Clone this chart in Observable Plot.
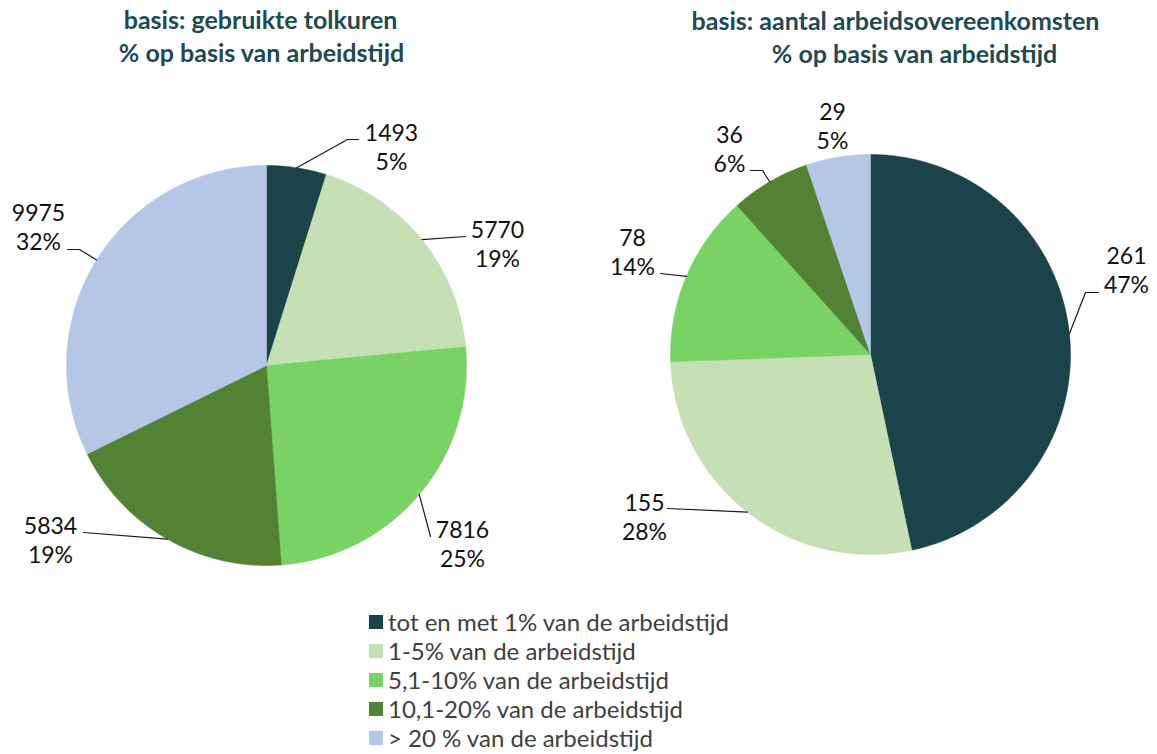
<!DOCTYPE html>
<html><head><meta charset="utf-8">
<script src="https://cdn.jsdelivr.net/npm/d3@7"></script>
<script src="https://cdn.jsdelivr.net/npm/@observablehq/plot@0.6"></script>
<style>
body{margin:0;background:#fff;font-family:Lato,sans-serif;}
#wrap{position:relative;width:1157px;height:754px;overflow:hidden;}
#chart{position:absolute;left:0;top:0;}
#legend{position:absolute;left:369px;top:607px;}
.row{display:flex;align-items:center;height:29px;font-size:24px;color:#404040;white-space:nowrap;}
.sw{width:14px;height:14px;margin-right:5px;flex:none;}
</style></head><body><div id="wrap"><div id="chart"></div><div id="legend"></div></div>
<script>
// ---- data ----
const categories = ["tot en met 1% van de arbeidstijd","1-5% van de arbeidstijd","5,1-10% van de arbeidstijd","10,1-20% van de arbeidstijd","> 20 % van de arbeidstijd"];
const hoursValues = [1493, 5770, 7816, 5834, 9975];
const hoursPct = ["5%", "19%", "25%", "19%", "32%"];
const contractValues = [261, 155, 78, 36, 29];
const contractPct = ["47%", "28%", "14%", "6%", "5%"];
const titleLeft = ["basis: gebruikte tolkuren", "% op basis van arbeidstijd"];
const titleRight = ["basis: aantal arbeidsovereenkomsten", "% op basis van arbeidstijd"];
const colors = ["#1b434a", "#c5e0b4", "#78d264", "#548235", "#b4c7e7"];

// ---- layout ----
const W = 1157, H = 590;
const pies = [
  {values: hoursValues, pct: hoursPct, cx: 266, cy: 365, r: 200,
   titles: titleLeft, titlePos: [[260, 20], [261, 53]],
   labels: [
     {x: 391, y: 146, leader: [[347, 139], [358, 139]]},
     {x: 497, y: 243, leader: [[465, 236]]},
     {x: 462, y: 543, leader: [[430, 536]]},
     {x: 50, y: 539, leader: [[83, 532]]},
     {x: 38, y: 226, leader: [[79, 249], [67, 249]]}
   ]},
  {values: contractValues, pct: contractPct, cx: 870, cy: 354, r: 200,
   titles: titleRight, titlePos: [[895, 21], [914, 54]],
   labels: [
     {x: 1126, y: 269, leader: [[1085, 292], [1098, 292]]},
     {x: 644, y: 516, leader: [[667, 508]]},
     {x: 632, y: 251, leader: [[660, 273]]},
     {x: 729, y: 148, leader: [[762, 170], [750, 170]]},
     {x: 832, y: 125, leader: null}
   ]}
];

const slicePts = [], leaderPts = [], labelRows = [], titleRows = [];
pies.forEach((p, pi) => {
  const arcs = d3.pie().sort(null).startAngle(0).endAngle(2 * Math.PI)(p.values);
  arcs.forEach((a, i) => {
    const key = pi + "-" + i, cat = categories[i];
    const pt = ang => ({x: p.cx + p.r * Math.sin(ang), y: p.cy - p.r * Math.cos(ang)});
    slicePts.push({key, cat, x: p.cx, y: p.cy});
    const n = Math.max(2, Math.ceil((a.endAngle - a.startAngle) / (Math.PI / 360)));
    for (let k = 0; k <= n; k++) {
      const q = pt(a.startAngle + (a.endAngle - a.startAngle) * k / n);
      slicePts.push({key, cat, x: q.x, y: q.y});
    }
    slicePts.push({key, cat, x: p.cx, y: p.cy});
    const lab = p.labels[i];
    labelRows.push({x: lab.x, y: lab.y, text: p.values[i] + "\n" + p.pct[i]});
    if (lab.leader) {
      const m = pt((a.startAngle + a.endAngle) / 2);
      leaderPts.push({key, x: m.x, y: m.y});
      lab.leader.forEach(([x, y]) => leaderPts.push({key, x, y}));
    }
  });
  p.titles.forEach((t, j) => titleRows.push({x: p.titlePos[j][0], y: p.titlePos[j][1], text: t}));
});

const chart = Plot.plot({
  width: W, height: H, margin: 0,
  x: {domain: [0, W], range: [0, W], axis: null},
  y: {domain: [0, H], range: [0, H], axis: null},
  color: {domain: categories, range: colors},
  style: {fontFamily: "Lato, sans-serif", background: "transparent", overflow: "visible"},
  marks: [
    Plot.line(slicePts, {x: "x", y: "y", z: "key", fill: "cat", stroke: "cat", strokeWidth: 0.5, curve: "linear"}),
    Plot.line(leaderPts, {x: "x", y: "y", z: "key", stroke: "#1a1a1a", strokeWidth: 1.2, curve: "linear"}),
    Plot.text(labelRows, {x: "x", y: "y", text: "text", fontSize: 23, lineHeight: 1.26, lineAnchor: "middle", textAnchor: "middle", fill: "#111"}),
    Plot.text(titleRows, {x: "x", y: "y", text: "text", fontSize: 25, fontWeight: "bold", fill: "#1e4a52", textAnchor: "middle", lineAnchor: "middle"})
  ]
});
document.getElementById("chart").appendChild(chart);

const legend = document.getElementById("legend");
categories.forEach((c, i) => {
  const row = document.createElement("div");
  row.className = "row";
  const sw = document.createElement("span");
  sw.className = "sw";
  sw.style.background = colors[i];
  const tx = document.createElement("span");
  tx.textContent = c;
  row.appendChild(sw); row.appendChild(tx);
  legend.appendChild(row);
});
</script></body></html>
